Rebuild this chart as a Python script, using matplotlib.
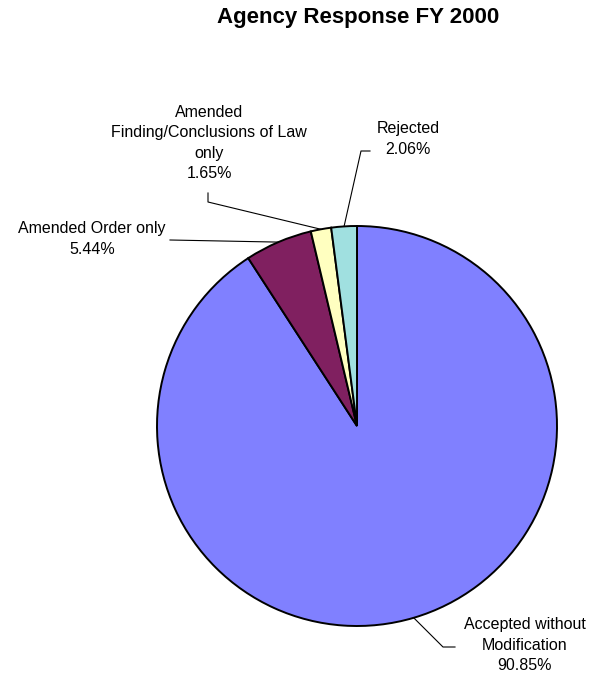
import numpy as np
import matplotlib.pyplot as plt

plt.rcParams['font.family'] = ['Liberation Sans', 'DejaVu Sans']

# Agency response shares, FY 2000 (percent)
categories = ["Accepted without\nModification", "Amended Order only",
              "Amended\nFinding/Conclusions of Law\nonly", "Rejected"]
shares = [90.85, 5.44, 1.65, 2.06]
colors = ["#8080FF", "#802060", "#FFFFC0", "#A0E0E0"]

W, H = 594, 679
fig = plt.figure(figsize=(W / 100, H / 100), dpi=100)
ax = fig.add_axes([0, 0, 1, 1])

cx, cy, r = 357, H - 426, 200
wedges, _ = ax.pie(shares, colors=colors, startangle=90, counterclock=False,
                   center=(cx, cy), radius=r, frame=True,
                   wedgeprops=dict(edgecolor="black", linewidth=1.4))
ax.set_xlim(0, W)
ax.set_ylim(0, H)
ax.set_aspect("equal")
ax.axis("off")

# label centre positions and leader-line elbows (label side)
label_pos = [(525, H - 645), (92, H - 239), (209, H - 143), (408, H - 139)]
elbows = [[(455, H - 647), (443, H - 647)],
          [(170, H - 240)],
          [(208, H - 193), (208, H - 202)],
          [(370, H - 151), (361, H - 151)]]

for w, name, val, (lx, ly), elb in zip(wedges, categories, shares, label_pos, elbows):
    mid = np.deg2rad((w.theta1 + w.theta2) / 2)
    ex, ey = cx + r * np.cos(mid), cy + r * np.sin(mid)
    xs = [p[0] for p in elb] + [ex]
    ys = [p[1] for p in elb] + [ey]
    ax.plot(xs, ys, color="black", linewidth=0.8)
    ax.text(lx, ly, f"{name}\n{val:.2f}%", ha="center", va="center",
            fontsize=11.5, linespacing=1.45)

fig.text(358 / W, 1 - 18 / H, "Agency Response FY 2000", ha="center", va="center",
         fontsize=16, fontweight="bold")

fig.savefig("out.png", dpi=100)
